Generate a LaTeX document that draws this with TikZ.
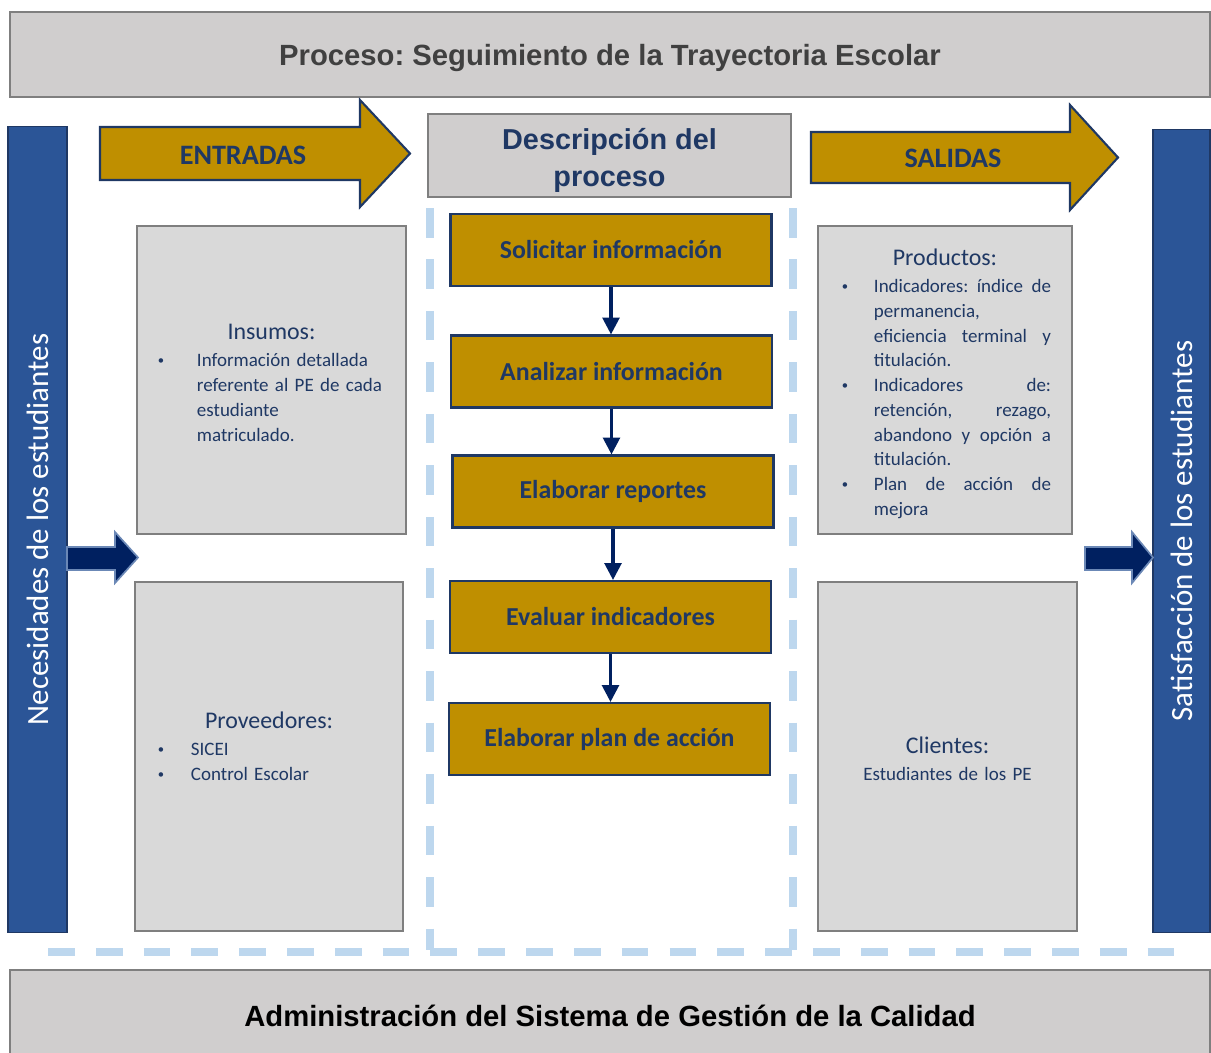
\documentclass[tikz,border=0pt]{standalone}
\usepackage{fontspec}
\setmainfont{Carlito}
\newfontfamily\arialfont{Liberation Sans}
\usetikzlibrary{arrows.meta,positioning}
\frenchspacing

\definecolor{titlegray}{HTML}{D0CECE}
\definecolor{boxgray}{HTML}{D9D9D9}
\definecolor{edgegray}{HTML}{7F7F7F}
\definecolor{gold}{HTML}{BF8F00}
\definecolor{navytext}{HTML}{1F3864}
\definecolor{arrownavy}{HTML}{002060}
\definecolor{barblue}{HTML}{2B5597}
\definecolor{dashblue}{HTML}{BDD7EE}
\definecolor{titletext}{HTML}{404040}

\newcommand{\bul}[2][0.9cm]{\par\noindent\hangindent=#1\hangafter=1\makebox[#1][l]{\hspace{2pt}\raisebox{1.6pt}{\fontsize{9}{9}\selectfont\textbullet}}#2\par}

\tikzset{
  headbox/.style={draw=edgegray, fill=titlegray, line width=1.4pt},
  headtext/.style={anchor=base, font=\arialfont\bfseries\fontsize{20.8}{24}\selectfont},
  infobox/.style={draw=edgegray, fill=boxgray, line width=1.3pt, text=navytext, font=\fontsize{13.5}{17.6}\selectfont},
  procbox/.style={draw=navytext, fill=gold, line width=1.5pt, minimum width=8.025cm, minimum height=1.8cm, text=navytext, font=\bfseries\fontsize{18.4}{21}\selectfont},
  flowarrow/.style={draw=arrownavy, line width=2.2pt, -{Triangle[length=12pt,width=12pt]}},
  bigarrow/.style={draw=navytext, fill=gold, line width=1.5pt},
  sidebar/.style={draw=navytext, fill=barblue, line width=0.8pt, text=white, font=\fontsize{22}{24}\selectfont},
  blockarrow/.style={draw=barblue!70!white, fill=arrownavy, line width=1.2pt},
  guideline/.style={draw=dashblue, line width=5pt},
}

\begin{document}
\begin{tikzpicture}[x=0.025cm,y=-0.025cm]
  \useasboundingbox (0,0) rectangle (1211,1053); %Picture frame

  \node[headbox, minimum width=30cm, minimum height=2.125cm] (title) at (610,54.5) {}; %Process title
  \node[headtext, text=titletext] (titletxt) at (610,65.5) {Proceso: Seguimiento de la Trayectoria Escolar};
  \node[headbox, minimum width=30cm, minimum height=2.3cm] (admin) at (610,1016) {}; %Bottom band
  \node[headtext] (admintxt) at (610,1026.5) {Administración del Sistema de Gestión de la Calidad};

  \draw[guideline, dash pattern=on 21pt off 15.6pt] (430,208) -- (430,950); %Left guide
  \draw[guideline, dash pattern=on 21pt off 15.6pt] (793,208) -- (793,950); %Right guide
  \draw[guideline, dash pattern=on 19pt off 15pt] (48,952) -- (1183,952); %Bottom guide

  \node[sidebar, rotate=90, minimum width=20.125cm, minimum height=1.475cm] (needs) at (37.5,529.5) {Necesidades de los estudiantes}; %Left bar
  \node[sidebar, rotate=90, minimum width=20.05cm, minimum height=1.425cm] (satisf) at (1181.5,531) {Satisfacción de los estudiantes}; %Right bar

  \draw[blockarrow] (67,547) -- (115,547) -- (115,532) -- (138,557.5) -- (115,583) -- (115,570) -- (67,570) -- cycle; %Left block arrow
  \draw[blockarrow] (1085,547) -- (1132,547) -- (1132,532) -- (1153,557.5) -- (1132,583) -- (1132,570) -- (1085,570) -- cycle; %Right block arrow

  \draw[bigarrow] (100,127) -- (360,127) -- (360,100) -- (410,153.5) -- (360,207) -- (360,180) -- (100,180) -- cycle; %Inputs arrow
  \node[text=navytext, font=\bfseries\fontsize{20}{24}\selectfont] (entradas) at (243,155) {ENTRADAS};
  \draw[bigarrow] (811,132) -- (1070,132) -- (1070,105) -- (1118,157.5) -- (1070,210) -- (1070,183) -- (811,183) -- cycle; %Outputs arrow
  \node[text=navytext, font=\bfseries\fontsize{20}{24}\selectfont] (salidas) at (953,158) {SALIDAS};

  \node[headbox, minimum width=9.075cm, minimum height=2.075cm] (descr) at (609.5,155.5) {}; %Description header
  \node[align=center, text=navytext, font=\arialfont\bfseries\fontsize{20.5}{26.5}\selectfont] (descrtxt) at (609.5,160.5) {Descripción del\\proceso};

  \node[infobox, minimum width=6.725cm, minimum height=7.7cm, text width=5.825cm] (insumos) at (271.5,380) {%
    \makebox[\linewidth]{\fontsize{17}{20}\selectfont Insumos:}\par\vspace{2pt}
    \bul[1.05cm]{Información detallada\newline referente al PE de cada\newline estudiante\newline matriculado.}\vspace*{-3.6pt}}; %Inputs box
  \node[infobox, minimum width=6.7cm, minimum height=8.725cm, text width=5.7cm] (proveed) at (269,756.5) {%
    \makebox[\linewidth]{\fontsize{17}{20}\selectfont Proveedores:}\par\vspace{2pt}
    \bul[0.9cm]{SICEI}
    \bul[0.9cm]{Control Escolar}\vspace*{15pt}}; %Suppliers box
  \node[infobox, minimum width=6.35cm, minimum height=7.7cm, text width=5.3cm, align=justify] (productos) at (945,380) {%
    \makebox[\linewidth]{\fontsize{17}{20}\selectfont Productos:}\par\vspace{2pt}
    \bul[0.875cm]{Indicadores: índice de\linebreak permanencia,\hfil\break eficiencia terminal y\linebreak titulación.}
    \bul[0.875cm]{Indicadores de:\linebreak retención, rezago,\linebreak abandono y opción a\linebreak titulación.}
    \bul[0.875cm]{Plan de acción de\linebreak mejora}\vspace*{-5pt}}; %Outputs box
  \node[infobox, minimum width=6.475cm, minimum height=8.725cm, text width=5.5cm, align=center] (clientes) at (947.5,756.5) {%
    {\fontsize{17}{20}\selectfont Clientes:}\\[2pt]
    Estudiantes de los PE\par\vspace*{-3pt}}; %Clients box

  \node[procbox] (solicitar) at (611,250) {Solicitar información};
  \node[procbox] (analizar) at (611.5,371.5) {Analizar información};
  \node[procbox] (reportes) at (613,491.5) {Elaborar reportes};
  \node[procbox] (evaluar) at (610.5,617) {Evaluar indicadores};
  \node[procbox] (plan) at (609.5,739) {Elaborar plan de acción};

  \draw[flowarrow] (solicitar.south) -- (solicitar.south |- analizar.north); %Step arrows
  \draw[flowarrow] (analizar.south) -- (analizar.south |- reportes.north);
  \draw[flowarrow] (reportes.south) -- (reportes.south |- evaluar.north);
  \draw[flowarrow] (evaluar.south) -- (evaluar.south |- plan.north);
\end{tikzpicture}
\end{document}
